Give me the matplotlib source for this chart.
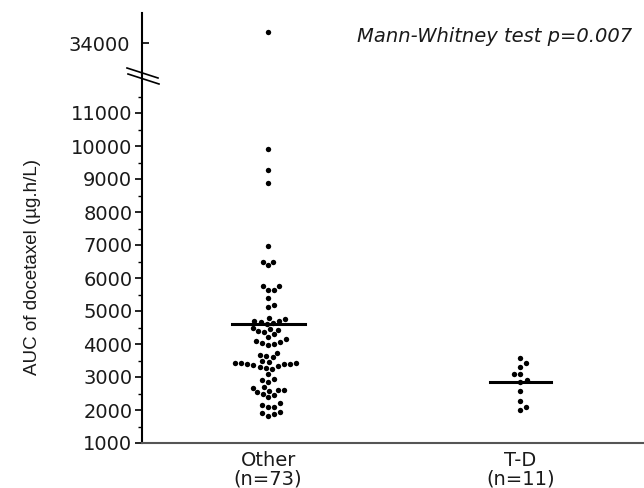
import numpy as np
import matplotlib
matplotlib.use("Agg")
import matplotlib.pyplot as plt
from matplotlib.lines import Line2D

# data
group_pos = [1, 2]
group_labels = ["Other\n(n=73)", "T-D\n(n=11)"]

auc_other = [34330, 9910, 9270, 8870, 6980, 6490, 6490, 6380, 5760, 5760,
             5640, 5640, 5380, 5180, 5130,
             4800, 4750, 4700, 4690, 4660, 4650, 4620,
             4500, 4450, 4420, 4400, 4350, 4300,
             4200, 4150, 4100, 4050, 4020, 4000, 3980,
             3720, 3680, 3650, 3600,
             3480, 3450, 3420, 3420, 3420, 3400, 3400, 3380, 3350, 3320, 3300,
             3280, 3250,
             3100,
             2950, 2900, 2850, 2700, 2680,
             2620, 2600, 2570, 2550, 2500, 2450, 2380,
             2200, 2150, 2100, 2080,
             1950, 1900, 1880, 1830]
auc_td = [3570, 3420, 3310, 3090, 3090, 2900, 2860, 2590, 2280, 2080, 2000]
mean_values = [4600, 2850]
mean_halfwidth = [0.145, 0.12]

low_ticks = list(range(1000, 12000, 1000))
high_ticks = [34000]
p_text = "Mann-Whitney test p=0.007"

W, H = 644, 488
PX_PER_X = 252.0
PX_PER_Y = 33.0 / 1000.0


def swarm_offsets(values, diam=6.3):
    # simple beeswarm: push each dot sideways until it does not overlap
    values = np.asarray(values, dtype=float)
    order = np.argsort(values)
    placed = []
    offs = np.zeros(len(values))
    for i in order:
        y = values[i] * PX_PER_Y
        near = [(px, py) for px, py in placed if abs(py - y) < diam]
        cands = [0.0]
        for px, py in near:
            d = np.sqrt(diam ** 2 - (py - y) ** 2)
            cands += [px + d, px - d]
        cands.sort(key=abs)
        best = 0.0
        for c in cands:
            if all((c - px) ** 2 + (y - py) ** 2 >= diam ** 2 - 1e-6 for px, py in near):
                best = c
                break
        placed.append((best, y))
        offs[i] = best / PX_PER_X
    return offs


fig = plt.figure(figsize=(W / 100, H / 100), dpi=100)

left = 142 / W
width = (W - 142) / W
ax = fig.add_axes([left, (H - 443) / H, width, (443 - 74) / H])
ax_top = fig.add_axes([left, (H - 74) / H, width, (74 - 13) / H])

txt_col = "#1a1a1a"

for a in (ax, ax_top):
    for pos, vals in zip(group_pos, [auc_other, auc_td]):
        x = pos + swarm_offsets(vals)
        a.scatter(x, vals, s=15, color="black", linewidths=0, zorder=3)
    for pos, m, hw in zip(group_pos, mean_values, mean_halfwidth):
        a.plot([pos - hw, pos + hw], [m, m], color="black", lw=2.2, zorder=4)
    a.set_xlim(0.5, 2.49)
    a.spines["top"].set_visible(False)
    a.spines["right"].set_visible(False)
    a.spines["left"].set_linewidth(1.5)
    a.set_facecolor("none")

ax.set_ylim(1000, 1000 + (443 - 74) / 33.0 * 1000)
ax_top.set_ylim(34000 - 31 / 33.0 * 1000, 34000 + 30 / 33.0 * 1000)

ax.set_yticks(low_ticks)
ax.set_yticks(np.arange(1500, 12000, 1000), minor=True)
ax.tick_params(axis="y", which="major", length=5, width=1.2, pad=2,
               labelsize=14, labelcolor=txt_col)
ax.tick_params(axis="y", which="minor", length=3, width=1.0)
ax.spines["bottom"].set_color("#555555")
ax.spines["bottom"].set_linewidth(1.5)
ax.set_xticks(group_pos)
ax.set_xticklabels(group_labels, fontsize=14, color=txt_col, linespacing=0.95)
ax.tick_params(axis="x", length=0, pad=6)

ax_top.set_yticks(high_ticks)
ax_top.tick_params(axis="y", direction="in", length=5, width=1.2, pad=9,
                   labelsize=14, labelcolor=txt_col)
ax_top.spines["bottom"].set_visible(False)
ax_top.set_xticks([])

ax.set_ylabel("AUC of docetaxel (µg.h/L)", family="Liberation Sans",
              fontsize=13.5, color=txt_col)
ax.yaxis.set_label_coords(-(142 - 41) / (W - 142), (443 - 267) / (443 - 74))

# break marks on the y axis
for (x0, y0, x1, y1) in [(127, 68, 158, 78), (128, 74, 159, 84)]:
    fig.add_artist(Line2D([x0 / W, x1 / W], [1 - y0 / H, 1 - y1 / H],
                          transform=fig.transFigure, color="black", lw=1.2))

fig.text(632 / W, 1 - 37 / H, p_text, ha="right", va="center",
         style="italic", fontsize=14, color=txt_col)

fig.savefig("out.png", dpi=100)
